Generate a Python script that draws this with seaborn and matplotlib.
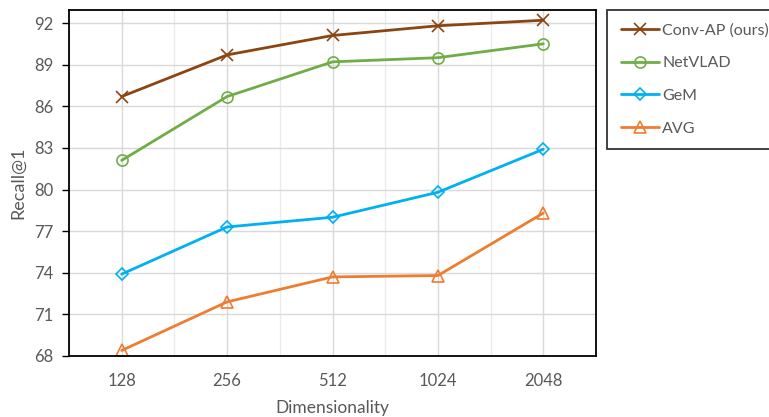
import matplotlib
matplotlib.use("Agg")
import matplotlib.pyplot as plt
import seaborn as sns
import pandas as pd

dims = ["128", "256", "512", "1024", "2048"]
conv_ap = [86.7, 89.7, 91.1, 91.8, 92.2]
netvlad = [82.1, 86.7, 89.2, 89.5, 90.5]
gem = [73.9, 77.3, 78.0, 79.8, 82.9]
avg = [68.4, 71.9, 73.7, 73.8, 78.3]
methods = ["Conv-AP (ours)", "NetVLAD", "GeM", "AVG"]
series = [conv_ap, netvlad, gem, avg]
yticks = [68, 71, 74, 77, 80, 83, 86, 89, 92]

rows = []
for m, vals in zip(methods, series):
    for i, (d, v) in enumerate(zip(dims, vals)):
        rows.append({"Dimensionality": d, "pos": i, "Recall@1": v, "Method": m})
df = pd.DataFrame(rows)

sns.set_theme(style="white")
plt.rcParams["font.family"] = ["Lato", "DejaVu Sans"]

colors = {"Conv-AP (ours)": "#8B4513", "NetVLAD": "#70AD47", "GeM": "#00B0F0", "AVG": "#ED7D31"}
markers = {"Conv-AP (ours)": "x", "NetVLAD": "o", "GeM": "D", "AVG": "^"}
msizes = {"Conv-AP (ours)": 8, "NetVLAD": 8, "GeM": 6, "AVG": 8}

fig = plt.figure(figsize=(7.69, 4.17), dpi=100)
ax = fig.add_axes([69 / 769, 1 - 356 / 417, (596 - 69) / 769, (356 - 10) / 417])

for m in methods:
    sub = df[df["Method"] == m]
    sns.lineplot(data=sub, x="pos", y="Recall@1", ax=ax, color=colors[m], marker=markers[m],
                 markersize=msizes[m], markerfacecolor="none", markeredgecolor=colors[m],
                 markeredgewidth=1.2, linewidth=2, label=m)

ax.set_xlim(-0.5, 4.5)
ax.set_ylim(68, 68 + 346 / 13.875)
ax.set_xticks(range(len(dims)))
ax.set_xticklabels(dims)
ax.set_xticks([i + 0.5 for i in range(-1, len(dims))], minor=True)
ax.set_yticks(yticks)
ax.grid(True, which="major", color="#D9D9D9", linewidth=1)
ax.grid(True, which="minor", axis="x", color="#EBEBEB", linewidth=1)
ax.set_axisbelow(True)
for s in ax.spines.values():
    s.set_color("black")
    s.set_linewidth(1.3)
ax.tick_params(axis="y", which="major", direction="out", length=5, color="black", width=1,
               labelsize=12, labelcolor="#595959", pad=6, left=True)
ax.tick_params(axis="x", which="both", length=0, labelsize=12, labelcolor="#595959", pad=12)
ax.set_xlabel("Dimensionality", fontsize=12.5, color="#595959", labelpad=8)
ax.set_ylabel("Recall@1", fontsize=13, color="#595959", labelpad=6)

leg = ax.legend(loc="upper left", bbox_to_anchor=(607 / 769, 1 - 10 / 417), bbox_transform=fig.transFigure,
                frameon=True, fancybox=False, edgecolor="black", fontsize=11.5, handlelength=2.4,
                labelspacing=1.15, borderpad=0.85, handletextpad=0.2, borderaxespad=0)
leg.get_frame().set_linewidth(1.3)
for t in leg.get_texts():
    t.set_color("#595959")

fig.savefig("out.png", dpi=100)
